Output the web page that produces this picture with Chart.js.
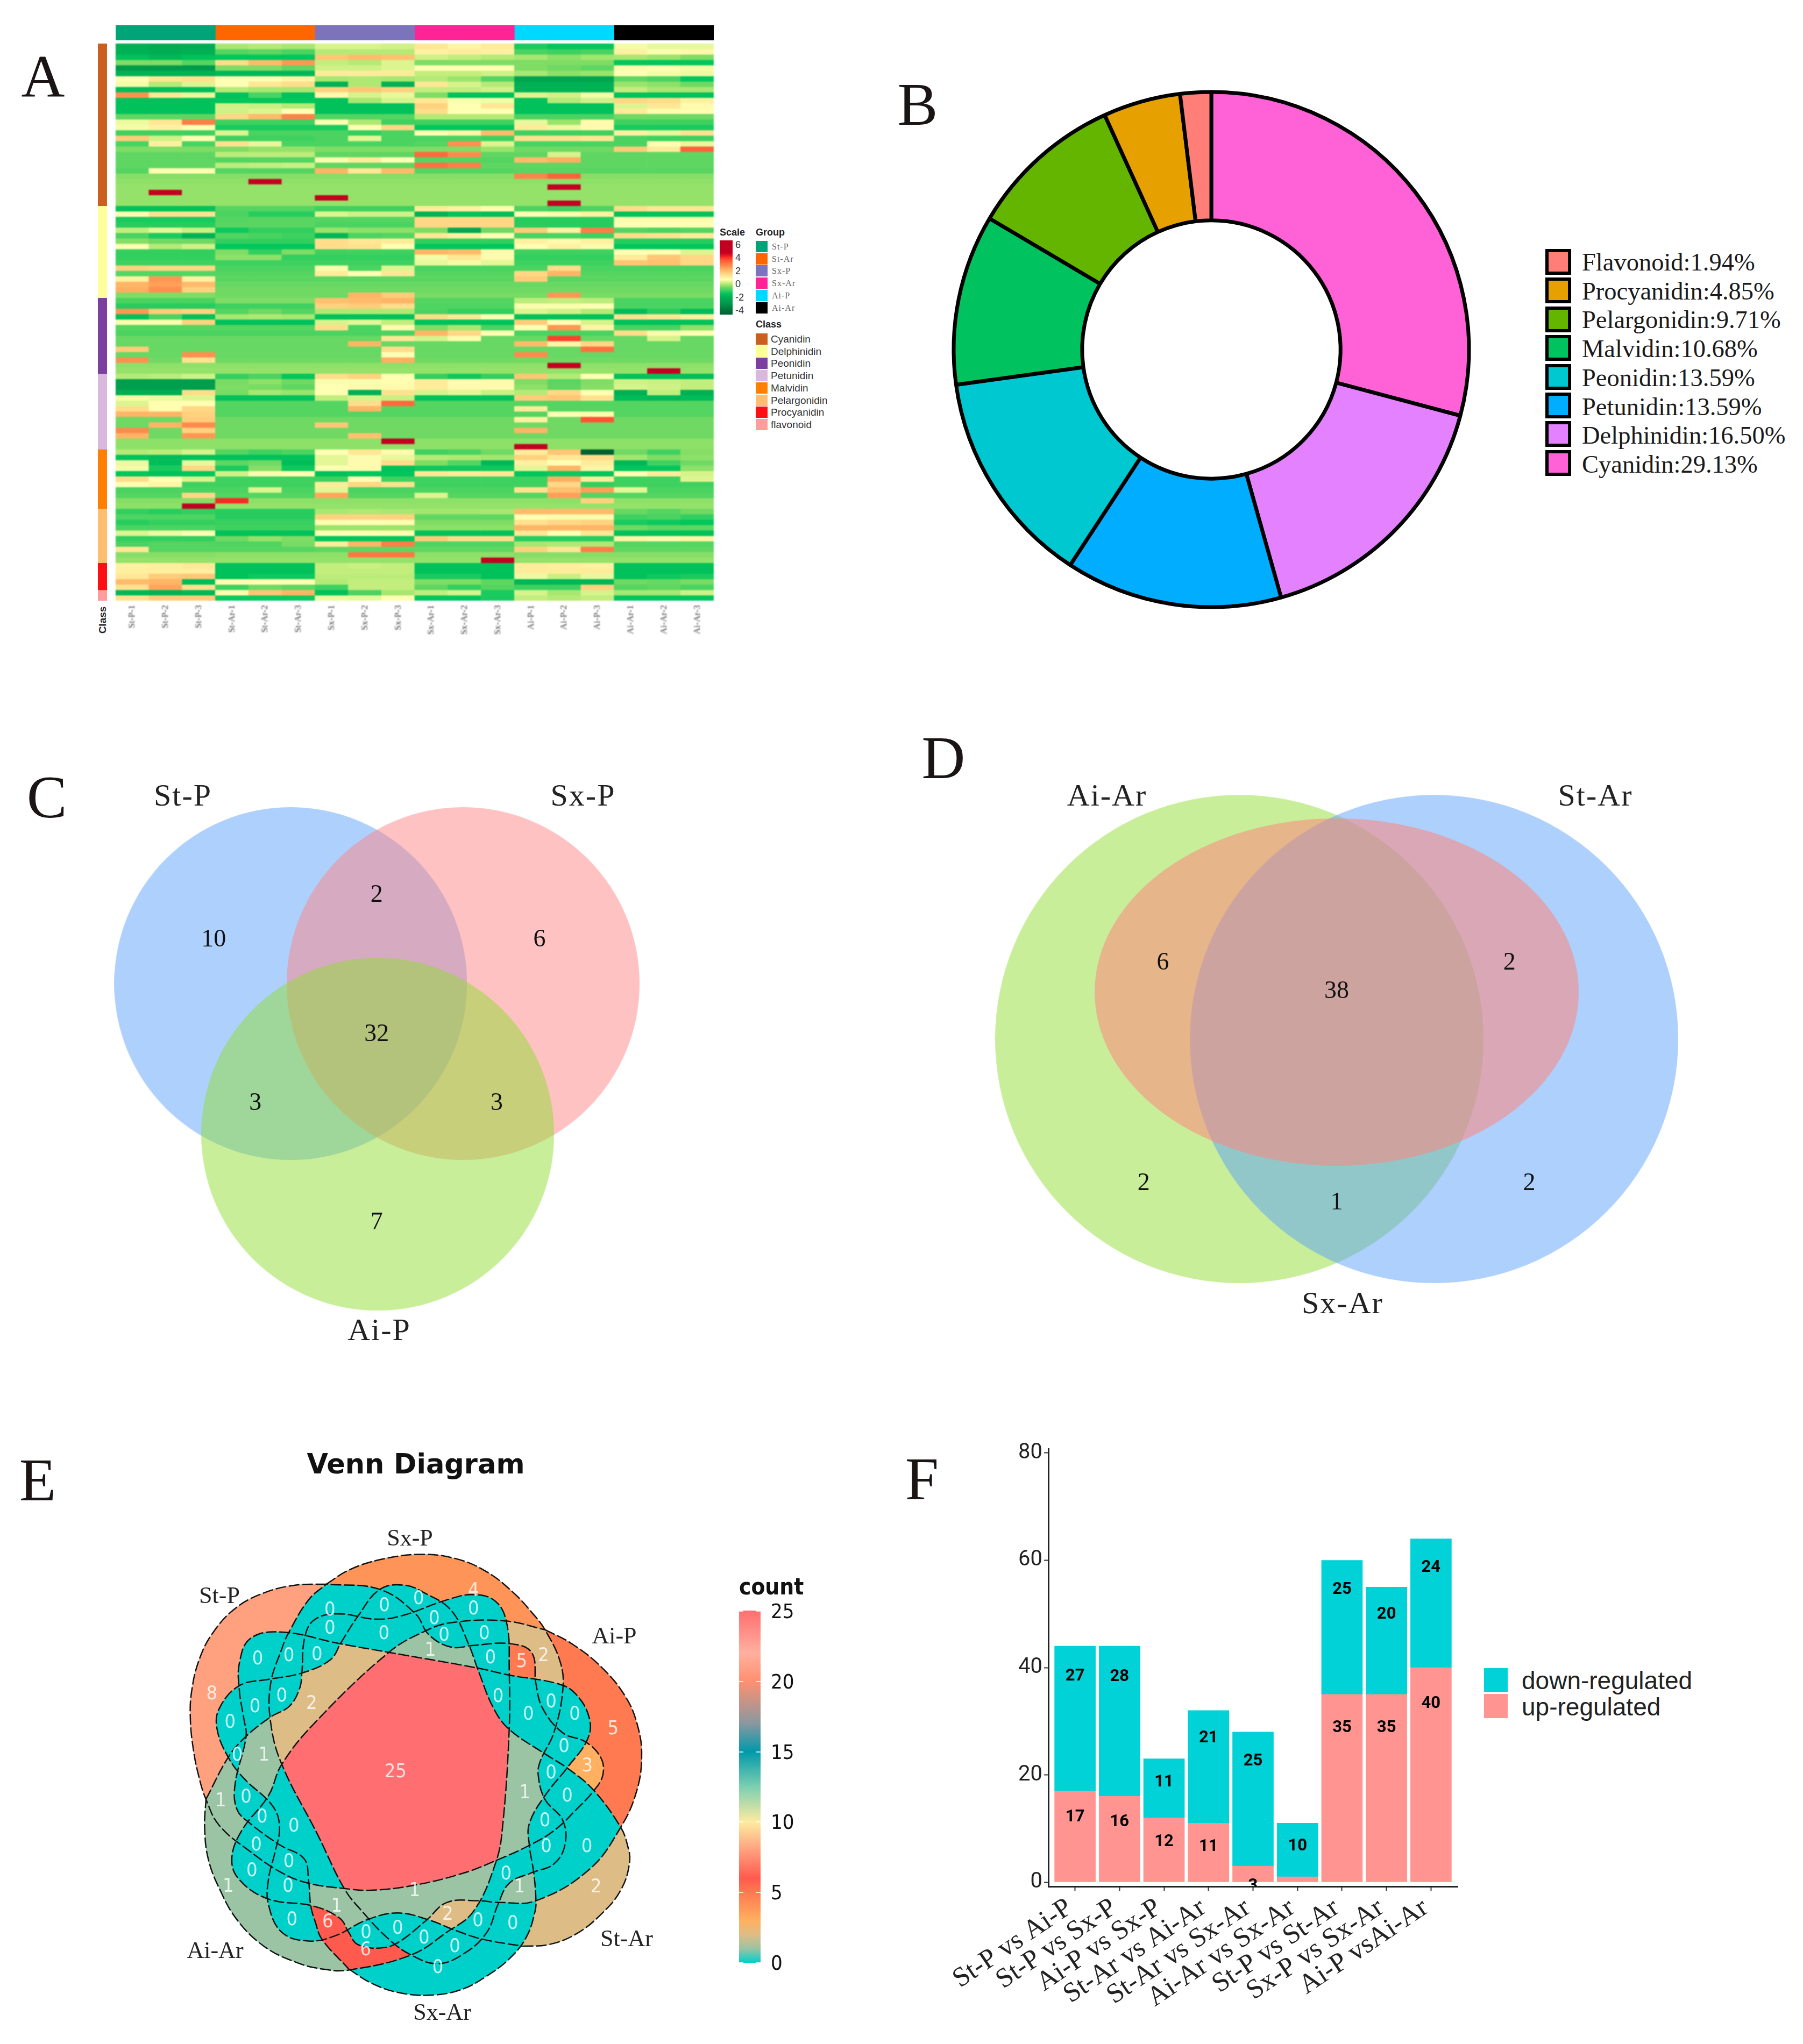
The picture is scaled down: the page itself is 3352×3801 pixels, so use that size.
<!DOCTYPE html>
<html>
<head>
<meta charset="utf-8">
<title>Figure</title>
<script src="https://cdn.jsdelivr.net/npm/chart.js"></script>
<style>
html,body{margin:0;padding:0;background:#fff}
#page{position:relative;width:3352px;height:3801px;overflow:hidden;background:#fff}
canvas{position:absolute}
.t{position:absolute;white-space:nowrap;line-height:1;transform:translate(0,-50%)}
.c{transform:translate(-50%,-50%)}
.b{position:absolute}
</style>
</head>
<body>
<div id="page"></div>
<script>
// ---- panel A
const heatSamples = ["St-P-1","St-P-2","St-P-3","St-Ar-1","St-Ar-2","St-Ar-3","Sx-P-1","Sx-P-2","Sx-P-3","Sx-Ar-1","Sx-Ar-2","Sx-Ar-3","Ai-P-1","Ai-P-2","Ai-P-3","Ai-Ar-1","Ai-Ar-2","Ai-Ar-3"];
const groupNames = ["St-P","St-Ar","Sx-P","Sx-Ar","Ai-P","Ai-Ar"];
const groupSizes = [3,3,3,3,3,3];
const groupColors = ["#00A478","#FF6600","#7B74BC","#FF2396","#00D9FF","#000000"];
const classNames = ["Cyanidin","Delphinidin","Peonidin","Petunidin","Malvidin","Pelargonidin","Procyanidin","flavonoid"];
const classSizes = [30,17,14,14,11,10,5,2];
const classColors = ["#C9601E","#FFFF99","#7B3FA0","#D9B8DE","#FF8000","#FDBF6F","#FF0F14","#FF9C9E"];
const scaleTicks = [6,4,2,0,-2,-4];
const heatRows = [
[-2.1,-2.3,-2.2,-.3,-.2,-.3,.05,.05,0,.9,.6,.8,-1.4,-1.6,-1.6,.3,.2,.2],
[-2.1,-2.2,-2.1,-.9,-.8,-1,-.2,-.2,-.2,.7,.8,.7,-1,-1.1,-1,.7,.35,.55],
[-1.7,-1.9,-1.7,-1.6,-1.6,-1.6,1.5,1.7,1.6,0,-.1,-.2,-.3,-.5,-.35,-.3,-.4,-.6],
[-.6,-.6,-.9,1.1,1.7,2.2,-.1,-.2,.1,-.6,-.6,-.6,-.6,-.6,-.6,-1.6,-1.6,-1.6],
[-3,-3,-3,-.6,-.6,-.8,0,0,.1,.4,.4,.4,-.6,-.7,-.8,.5,.4,.3],
[-2,-2,-2,-1.9,-1.9,-1.9,.8,.8,.8,-.1,-.1,0,-.3,-.5,-.4,.4,.3,.25],
[.4,.9,1,.4,.4,.6,-.3,-.25,-.3,-.2,-.4,-.9,-2.6,-2.6,-2.6,-.8,-1,-1.6],
[.3,-.2,.1,.4,.9,1.1,-2.1,-.25,-2.1,.9,.05,-.2,-2.1,-2.1,-2.1,-.4,-.5,-.7],
[-1.8,-1.8,-1.8,-.2,-.3,-.3,1.3,1.5,1.3,-.1,-.1,0,-2,-2,-2,-.1,-.3,-.3],
[2.3,.9,.2,-1.7,-1,-1.7,.5,.05,.2,-.6,-1.7,-1.7,.1,0,.3,-1.7,-1.7,-1.7],
[-1.7,-1.7,-1.7,-1.6,-1.6,-1.6,-1.7,-.3,.05,.9,.35,.3,-1.7,-.2,0,1.2,1.1,.7],
[-1.7,-1.7,-1.7,0,-.05,-.2,-1.7,-1.7,-1.7,1.3,.4,.9,-1.7,-1.7,-1.7,.1,.9,.5],
[-1.7,-1.7,-1.7,0,.1,.4,-1.7,-1.7,-1.7,1.1,.4,.4,-1.7,-1.7,-1.7,.8,.35,.45],
[-.8,-.8,-.8,1.2,1.7,2.5,-.9,-.9,-.9,-.2,-.2,-.2,-1,-1,-1,-.7,-.7,-.7],
[.25,.9,2.6,-1.1,-1.1,-1.1,.4,-.25,-1.1,-1.1,-1.1,-1.1,.2,-.4,.5,-1.1,-1.1,-1.1],
[.3,.7,.4,-1.4,-1.4,-1.4,-1.4,.4,1.2,-1.6,-1.6,-1.6,.8,.25,.5,-1.4,-1.4,-1.4],
[-1.1,-1.1,-1.1,.1,-1,-1,-1,-1.2,-1,.4,.6,1.7,-1.1,-1.1,-1.1,.7,.2,1],
[1.4,0,.4,-1.1,-1.1,-1.1,-1,.15,-1,-1,-1,-1.1,1,1,.9,-1,-1.1,-1.1],
[-1,.7,-1,1,.2,-1,-1,-1,-1,-.9,2.3,.1,-1,-1,-1,-1,.4,.2],
[-.6,-.6,-.6,-.6,-.45,-.45,-.6,-.6,-.6,-.6,-.6,-.4,-.7,-.7,-.7,1.4,.8,3],
[-.8,-.8,-.8,-.15,-.15,-.15,-.8,-.8,-.8,2.9,2.4,-.8,-.8,.05,-.8,-.8,-.8,-.8],
[-.8,-.8,-.8,-.9,-.9,-.9,.35,.8,.4,-.9,-.9,-.9,1.7,1.9,-.8,-.8,-.8,-.8],
[-.8,-.8,-.8,-.15,-.1,-.05,-.8,-.8,-.8,2.8,2.6,-.8,-.8,-.8,-.8,-.8,-.8,-.8],
[-.9,.4,.4,-.9,-.9,-.9,1.8,.9,1.7,-.9,-.9,-.9,-.85,-.85,-.85,-.85,-.85,-.85],
[-.55,-.55,-.55,-.55,-.55,-.55,-.55,-.55,-.55,-.55,-.55,-.55,2.5,3,-.55,-.55,-.55,-.55],
[-.5,-.5,-.5,-.5,4.5,-.5,-.5,-.5,-.5,-.5,-.5,-.5,-.5,-.5,-.5,-.5,-.5,-.5],
[-.45,-.45,-.45,-.45,-.45,-.45,-.45,-.45,-.45,-.45,-.45,-.45,-.45,4.5,-.45,-.45,-.45,-.45],
[-.45,4.5,-.45,-.45,-.45,-.45,-.45,-.45,-.45,-.45,-.45,-.45,-.45,-.45,-.45,-.45,-.45,-.45],
[-.45,-.45,-.45,-.45,-.45,-.45,4.5,-.45,-.45,-.45,-.45,-.45,-.45,-.45,-.45,-.45,-.45,-.45],
[-.45,-.45,-.45,-.45,-.45,-.45,-.45,-.45,-.45,-.45,-.45,-.45,-.45,4.5,-.45,-.45,-.45,-.45],
[-1.7,-1.7,-1.7,-.9,-.9,-.9,-1.1,-1.1,-1.1,.8,.7,.45,-1,-1.1,-1,1.1,.9,.9],
[.45,1,1,-1,-1.3,-1.3,.1,0,0,-2,-1.7,-1.8,.4,.5,.7,-1.7,-1.7,-1.7],
[-1.4,-1.4,-1.4,-.9,-.85,-.85,-.9,-.9,-.9,1.2,1.2,1.2,-1.3,-1.3,-1.3,.35,.35,.35],
[-1.3,-1.3,-1.3,-.85,-.85,-.85,-1,-1,-1,1.2,1.2,1.2,-1.3,-1.3,-1.3,.4,.4,.4],
[-.1,.15,-.05,-1.5,-1.2,-1.2,-.4,-.5,-.5,-.6,-2.4,-.7,1.4,.7,2.6,-.9,-1,-.9],
[-1,-1.4,-2,-.9,-1,-1.1,-1.9,-1,-.9,.9,.7,.4,-1,-1,-1.1,1.1,1,.8],
[-.55,-.7,-.7,-1.2,-1.2,-1.2,1.1,.9,.8,-1.2,-1.2,-1.2,.7,.5,.7,-1.3,-1.3,-1.3],
[.4,-.2,0,-1.6,-1.6,-1.6,1.1,1,.4,-1.6,-1.6,-1.6,.4,.7,.35,-1.6,-1.6,-1.6],
[-1.2,-1.2,-1.2,-.6,-1.2,-.6,-1.1,-1.1,-1.1,1.8,1.7,.5,-1.1,-1.1,-1.1,.4,.4,.1],
[-1.2,-1.2,-1.2,-.5,-.5,-1.2,-1.2,-1.2,-1.2,.3,.9,.5,-1.2,-1.2,-1.2,.8,1.5,1.2],
[-1.1,-1.1,-1.1,-1.1,-1.1,-1.1,-1.1,-1.1,-1.1,.2,.3,.15,-1.1,-1.1,-1.1,1.5,1.6,1.2],
[1.3,1.2,1.2,-1,-1,-1,.35,-1,.1,-1,-1,-1,-1,1.1,-1,-1,-1,-1],
[-.9,-.9,-.9,-.9,-.9,-.9,.8,.4,.9,-.9,-.9,-.9,1.2,1.8,-.9,-.9,-.9,-.9],
[.7,2.2,.7,-.85,-.85,-.85,-.85,-.85,-.85,-.85,-.85,-.85,1.4,-.85,-.85,-.85,-.85,-.85],
[1.8,2.1,1.7,-.75,-.75,-.75,-.75,-.75,-.75,-.75,-.75,-.75,-.75,-.75,-.75,-.75,-.75,-.75],
[1.9,2.3,1.3,-.7,-.7,-.7,-.7,-.7,-.7,-.7,-.7,-.7,-.7,-.7,-.7,-.7,-.7,-.7],
[-.6,-.6,-.6,-.7,-.7,-.7,-.7,1.8,1.4,-.65,-.65,-.65,-.65,2.2,-.65,-.65,-.65,-.65],
[-1,-1,-1,-.6,-.6,-.6,1.6,1.7,1.8,-.9,-.9,-.9,-.15,-.1,-.15,-1,-1,-1],
[-1.3,-1.3,-1.3,-1.1,-1.1,-1.1,1.3,1.4,1.1,-.95,-.95,-.95,.35,.35,.4,-1,-1,-1],
[2.2,1.4,1.3,-.9,-.7,-.9,-.25,-.25,-.25,-1,-1.2,-1.2,.1,0,-.2,-1.8,-1.3,-1.8],
[-1.7,-1,-1.7,-.3,-.25,-.3,-1.7,-1.7,-1.7,1.1,.9,.4,-1.7,-1.7,-1.7,1,.9,.7],
[.35,.35,1.3,-1.7,-1.7,-1.7,.05,.15,-.1,-1.7,-1.7,-1.7,1.4,.4,.05,-1.7,-1.7,-1.7],
[-.9,-.9,-.9,-.9,-.9,-.9,1.1,-1,.5,-.6,-.3,-1,.4,2.2,.6,-1,-1,-.5],
[-1,-1,-1,-1,-1,-1,-1,-1,-1,1.8,1.2,.4,-1,-1,-1,1.1,.35,.4],
[-.75,-.75,-.75,-.75,-.75,-.75,-.75,-.75,.9,.05,.35,-.75,-.75,3.4,-.75,-.75,.05,-.75],
[-.75,-.75,-.75,-.75,-.75,-.75,-.75,1.8,-.75,-.75,-.75,-.75,1.7,.6,1.2,-.75,-.75,-.75],
[1.4,-.75,-.75,-.75,-.75,-.75,-.75,-.75,1.1,-.75,-.75,-.75,-.75,-.75,2.8,-.75,-.75,-.75],
[-.75,-.75,2.3,-.75,-.75,-.75,-.75,-.75,.4,-.75,-.75,-.75,2.4,-.75,-.75,-.75,-.75,-.75],
[2.3,-.7,1,-.7,-.7,-.7,-.7,-.7,1.9,-.7,-.7,-.7,-.7,-.7,-.7,-.7,-.7,-.7],
[-.5,-.5,-.5,-.5,-.5,-.5,-.5,-.5,-.5,-.5,-.5,-.5,-.5,4.5,-.5,-.5,-.5,-.5],
[-.45,-.45,-.45,-.45,-.45,-.45,-.45,-.45,-.45,-.45,-.45,-.45,-.45,-.45,-.45,-.45,4.5,-.45],
[-.2,-.15,0,-1.2,-1,-1.6,1.1,1.3,.4,-1.2,-1.5,-1.2,1.5,-.2,.4,-1.7,-1.7,-1.8],
[-2.8,-2.8,-2.8,-.65,-.5,-.7,.35,.35,.45,.8,.45,.5,-.6,-.85,-.6,0,-.05,-.1],
[-2.8,-2.8,-2.8,-.6,-.65,-.8,.4,.5,.5,.8,.5,.5,-.5,-.8,-.55,.05,0,-.1],
[-2.2,-2.2,1.1,-.65,-.3,-.4,.4,-2.1,1,.05,.15,-.05,-.2,1.2,.4,-2.1,-.1,-2.1],
[.3,.25,.1,-1.7,-1.7,-1.7,-.1,.05,-.05,-1.7,-1.7,-1.7,1.4,1.5,1,-1.8,-1.9,-1.8],
[.1,.45,.4,-.9,-.9,-.9,-.9,1.1,2.9,-.9,-.9,-.9,-.9,-.9,-.9,-.9,-.9,-.9],
[1.1,.45,1.2,-.9,-.9,-.9,-.9,1.8,-.9,-.9,-.9,-.9,.8,-.9,-.9,-.9,-.9,-.9],
[1.8,1.8,1.3,-.9,-.9,-.9,-.9,-.9,-.9,-.9,-.9,-.9,-.9,.4,.35,-.9,-.9,-.9],
[-.7,-.7,1.4,-.7,-.7,-.7,-.7,-.7,-.7,-.7,-.7,-.7,.7,-.7,3.2,-.7,-.7,-.7],
[-.7,1.8,2.4,-.7,-.7,-.7,1.5,-.7,-.7,-.7,-.7,-.7,-.7,-.7,-.7,-.7,-.7,-.7],
[2.4,-.7,1.3,-.7,-.7,-.7,-.7,-.7,-.7,-.7,-.7,-.7,1.8,-.7,-.7,-.7,-.7,-.7],
[1.8,-.7,2.2,-.7,-.7,-.7,-.7,1.6,-.7,-.7,-.7,-.7,-.7,-.7,-.7,-.7,-.7,-.7],
[-.5,-.5,-.5,-.5,-.5,-.5,-.5,-.5,4.5,-.5,-.5,-.5,-.5,-.5,-.5,-.5,-.5,-.5],
[-.5,-.5,-.5,-.5,-.5,-.5,-.5,-.5,-.5,-.5,-.5,-.5,4.5,-.5,-.5,-.5,-.5,-.5],
[-.2,-.15,.05,-.9,-1.1,-1,.4,.9,.5,-1.1,-1,-.7,.8,1.5,-4.5,-.7,-1.1,-.55],
[-1.7,-1.8,-1.7,-1.7,-1.7,-1.7,.15,.35,.2,-.2,-.25,-.35,1.3,.9,1.1,-.35,-.6,-.5],
[.25,-1.8,.2,-.8,-.7,-1.8,.15,.5,1.1,-.6,-.9,-1.9,.7,.4,.8,-1.9,-1.1,-.7],
[.3,-1.4,1.2,-1.4,-.55,-1.5,.4,.5,-1.7,-1.5,-1.5,-1.5,.15,1.8,.6,-1.6,-1.6,-.5],
[-1.6,-1.7,-1.6,0,.35,.4,-1.7,-1.6,-1.6,.9,.8,.9,-1.6,-1.5,-1.6,.4,.8,.05],
[1.1,.4,.05,-1.1,-1.1,-1.1,-1.1,.4,-1.1,-1.1,-1.1,-1.1,-1.1,1.9,.8,-1.1,-1.1,.1],
[.4,.6,-1.1,-1.1,-1.1,-1.1,.8,1.2,1,-1.1,-1.1,-1.1,-1.1,1.2,-1.2,-1.1,-1.1,-1.1],
[-1,-1,-1,-1,.1,-1,.15,-1,-1,-1,-1,-1,1,1.6,2.1,.15,-1,-1],
[-.9,-.9,1.2,-.9,-.9,-.9,2,-.9,-.9,.1,-.9,-.9,-.9,2.1,-.9,-.9,-.9,-.9],
[-.55,-.55,-.55,3.6,-.5,-.5,-.5,-.5,-.5,-.5,-.5,-.5,-.5,-.5,1.3,-.5,-.5,-.5],
[-.5,-.5,4.5,-.45,-.45,-.45,-.45,-.45,-.45,-.45,-.45,-.45,-.45,-.45,-.45,-.45,-.45,-.45],
[-1.2,-1.3,-1.2,-1.3,-1.3,-1.3,-.3,-.25,-.3,-.35,-.35,-.3,1.7,1.7,1.7,-.75,-.9,-.7],
[-.95,-.95,-.95,-1.3,-1.3,-1.3,1.3,1.3,1.3,-.8,-.8,-.8,.4,.35,.35,-1.1,-1,-1.2],
[-1.3,-1.2,-1.2,-1.15,-1.15,-1.15,.45,.4,.45,-.6,-.6,-.6,1,1.2,1.3,-1.4,-1.5,-1.6],
[-1,-1,-1,-1.1,-1.1,-1.1,-.4,-.4,-.4,-.5,-.5,-.5,1.8,1.8,1.8,-.7,-.8,-.8],
[.1,.25,.4,-1.7,-1.7,-1.7,.4,.4,.45,-1.7,-1.7,-1.7,.9,.4,.9,-1.7,-1.7,-1.7],
[-1.2,-1.2,-1.2,-.7,-.45,-.6,-1.6,-1.6,-1.6,1.4,1.1,1.1,-1.3,-1.3,-1.3,.6,.5,.6],
[-1,-.9,-.9,-.95,-.95,-.65,.8,1.8,2.6,-.95,-.95,-.95,-.3,-.25,-.25,-.9,-.9,-.9],
[.9,-.9,-.9,-.9,-.9,-.9,-.8,-.8,-.8,-.8,-.8,-.8,1.3,.9,2.6,-.8,-.8,-.8],
[-.55,-.55,-.55,-.5,-.5,-.5,-.5,2.7,2.7,-.5,-.5,-.5,-.55,-.55,-.55,-.55,-.55,-.55],
[-.45,-.45,-.45,-.45,-.45,-.45,-.45,-.45,-.45,-.45,-.45,4.5,-.45,-.45,-.45,-.45,-.45,-.45],
[.7,.75,.85,-1.7,-1.7,-1.7,-.1,-.05,-.1,-1.7,-1.7,-1.7,.8,.75,.7,-1.7,-1.7,-1.7],
[.75,.75,.75,-1.7,-1.7,-1.7,-.1,-.1,-.1,-1.7,-1.7,-1.7,.8,.8,.8,-1.7,-1.7,-1.7],
[.9,1.4,1.5,-1.7,-1.5,-1.5,-.15,-.15,-.15,-1.4,-1.4,-1.7,.25,-.05,.2,-1.7,-1.5,-1.4],
[1.7,1.8,-1.8,.4,.4,.4,-.2,-.1,-.1,-.6,-.6,-.8,-1.9,-1.9,-1.9,-.7,-.75,-.65],
[1,2,1,-1.1,-.7,-.8,-1.1,-.1,-.1,-.8,-1.2,-.9,-1.1,-1.1,1.3,-.9,-.8,-1],
[-1.9,-2,-1.9,.45,1.5,1.8,-1.7,-1,-.3,-.1,.05,-1.4,.05,-.3,.05,-.3,-.3,0],
[1,1.4,1.4,-1.5,-1.5,-1.5,.25,.2,.4,-1.6,-1.6,-1.4,-.1,-.2,-.1,-1.6,-1.6,-1.6]
];
const heatStops = [-4.5,-3,-2,-1.6,-1.1,-.8,-.6,-.4,-.15,.1,.4,.9,1.3,1.8,2.3,2.8,3.3,3.7,4.2,6];
const heatColors = ["#006030","#009A4B","#00B255","#00C65C","#3FD160","#5FD662","#7FDC65","#9BE46B","#BCEC7A","#DDF590","#FFFFB3","#FFE795","#FFD27F","#FFB566","#FF9050","#FF7040","#FF4C30","#F52020","#C40020","#C00020"];

// ---- panel B
const donutNames = ["Cyanidin","Delphinidin","Petunidin","Peonidin","Malvidin","Pelargonidin","Procyanidin","Flavonoid"];
const donutValues = [29.13,16.50,13.59,13.59,10.68,9.71,4.85,1.94];
const donutColors = ["#FF61D6","#E381FF","#00ADFF","#00C8D0","#00C35F","#64B500","#E6A000","#FF7F78"];

// ---- panel C, D
const vennCNames = ["St-P","Sx-P","Ai-P"];
const vennCCounts = [10,2,6,32,3,3,7];
const vennDNames = ["Ai-Ar","St-Ar","Sx-Ar"];
const vennDCounts = [6,38,2,2,1,2];

// ---- panel E
const eNames = ["St-P","Sx-P","Ai-P","St-Ar","Sx-Ar","Ai-Ar"];
const eStP = [[370,255],[300,258],[230,280],[165,325],[115,395],[85,470],[68,560],[65,640],[72,730],[85,810],[100,870],[130,945],[200,1020],[270,1080],[330,1110],[410,1125],[470,1130],[570,1115],[680,1080],[750,1045],[820,1005],[880,960],[930,900],[970,845],[990,800],[985,750],[950,705],[900,680],[855,610],[840,540],[830,450],[780,425],[700,430],[650,435],[600,400],[570,340],[490,270],[370,255]];
const eSxP = [[370,255],[420,215],[490,185],[580,170],[660,182],[730,220],[790,280],[830,335],[860,385],[895,480],[900,560],[880,680],[850,760],[845,800],[860,870],[900,930],[905,1000],[880,1055],[830,1080],[780,1110],[755,1170],[730,1250],[680,1310],[620,1340],[560,1315],[510,1270],[450,1190],[410,1125],[350,970],[270,770],[245,650],[245,540],[270,440],[285,395],[330,300],[370,255]];
const eAiP = [[860,385],[920,425],[985,490],[1040,575],[1068,660],[1077,750],[1065,850],[1030,950],[960,1070],[840,1160],[760,1165],[710,1160],[640,1165],[595,1215],[530,1280],[490,1295],[440,1285],[420,1250],[400,1210],[340,1175],[240,1155],[175,1100],[158,1040],[180,960],[240,860],[270,770],[345,650],[510,450],[590,390],[650,365],[770,360],[860,385]];
const eStAr = [[810,1290],[870,1285],[930,1255],[985,1200],[1030,1130],[1050,1050],[1045,1000],[1030,950],[970,845],[915,785],[860,740],[780,670],[745,610],[710,500],[690,430],[650,330],[590,280],[545,258],[490,270],[440,348],[403,422],[379,471],[315,509],[241,527],[175,545],[130,610],[125,670],[150,750],[185,810],[250,890],[265,950],[255,1020],[240,1100],[240,1170],[270,1250],[330,1275],[390,1260],[460,1215],[530,1195],[600,1215],[660,1245],[720,1270],[810,1290]];
const eSxAr = [[420,1355],[470,1395],[530,1422],[600,1430],[670,1415],[730,1375],[785,1320],[820,1260],[838,1190],[840,1160],[835,1080],[825,1000],[825,940],[860,860],[910,780],[955,700],[960,640],[930,570],[890,540],[780,515],[710,495],[510,450],[400,425],[270,392],[200,410],[175,480],[175,560],[185,640],[190,690],[165,830],[170,900],[200,940],[265,1000],[320,1040],[330,1100],[335,1175],[345,1220],[360,1270],[420,1355]];
const eAiAr = [[100,870],[150,750],[190,690],[246,634],[287,604],[310,553],[315,509],[322,404],[345,355],[400,340],[480,355],[540,345],[640,300],[700,285],[750,305],[775,370],[780,500],[780,670],[765,950],[750,1050],[700,1190],[640,1250],[560,1315],[420,1358],[360,1355],[300,1335],[230,1290],[170,1215],[130,1125],[105,1040],[97,950],[100,870]];
const eSets = [eStP,eSxP,eAiP,eStAr,eSxAr,eAiAr];
const eCounts = [8,4,5,2,0,1,1,1,2,1,5,2,3,1,25,1,1,2,1,6,6,
  0,0,0,0,0,0,0,0,0,0,0,0,0,0,0,0,0,0,0,0,0,0,0,0,0,0,0,0,0,0,0,0,0,0,0,0,0,0,0,0,0,0];
const eAnchors = [[113,570],[700,275],[1013,670],[975,1122],[620,1352],[150,1120],[133,875],[230,745],[337,598],[603,445],[808,478],[857,460],[955,775],[815,852],[525,793],[568,1133],[803,1122],[642,1200],[393,1177],[373,1222],[458,1302],
  [378,330],[500,318],[577,298],[700,327],[612,355],[378,382],[499,397],[634,402],[724,397],[738,467],[216,470],[286,460],[349,458],[270,576],[210,607],[154,651],[170,745],[755,577],[823,628],[874,593],[927,628],[903,720],[874,795],[910,862],[860,933],[863,1006],[954,1006],[773,1085],[710,1218],[788,1226],[658,1292],[589,1267],[530,1240],[459,1252],[293,1215],[284,1120],[203,1075],[286,1050],[213,1002],[297,948],[226,922],[190,865]];
const eColorTicks = [25,20,15,10,5,0];
const countStops = [0,1,2,3,4,5,6,8,10,12.5,15,17,20,22,25];
const countColors = ["#00D0CA","#9AC4A4","#DEBC85","#FFB060","#FF9458","#FF7A50","#FF5A4E","#FFA07F","#FDEBA0","#7CCFB0","#0099AA","#8A98A0","#FF9070","#FFB0A0","#FF6E70"];

// ---- panel F
const barLabels = ["St-P vs Ai-P","St-P vs Sx-P","Ai-P vs Sx-P","St-Ar vs Ai-Ar","St-Ar vs Sx-Ar","Ai-Ar vs Sx-Ar","St-P vs St-Ar","Sx-P vs Sx-Ar","Ai-P vsAi-Ar"];
const upValues = [17,16,12,11,3,1,35,35,40];
const downValues = [27,28,11,21,25,10,25,20,24];
const barTicks = [0,20,40,60,80];

const SERIF = '"Liberation Serif","Times New Roman",serif';
const SANS = '"Liberation Sans",Arial,sans-serif';
const DEJAVU = '"DejaVu Sans Condensed","DejaVu Sans",sans-serif';

const page = document.getElementById("page");
Chart.defaults.animation = false;
Chart.defaults.responsive = false;
Chart.defaults.devicePixelRatio = 1;
Chart.defaults.plugins.legend.display = false;
Chart.defaults.plugins.tooltip.enabled = false;

function addCanvas(x, y, w, h) {
  const c = document.createElement("canvas");
  c.width = w; c.height = h;
  c.style.left = x + "px"; c.style.top = y + "px";
  page.appendChild(c);
  return c;
}
function text(s, x, y, css, center) {
  const d = document.createElement("div");
  d.className = center ? "t c" : "t";
  d.textContent = s;
  d.style.left = x + "px"; d.style.top = y + "px";
  d.style.cssText += ";" + css;
  page.appendChild(d);
  return d;
}
function box(x, y, w, h, css) {
  const d = document.createElement("div");
  d.className = "b";
  d.style.cssText = `left:${x}px;top:${y}px;width:${w}px;height:${h}px;` + css;
  page.appendChild(d);
  return d;
}
function hex(c) { return [1,3,5].map(i => parseInt(c.substr(i,2),16)); }
function ramp(v, stops, colors) {
  if (v <= stops[0]) return colors[0];
  for (let i = 1; i < stops.length; i++) {
    if (v <= stops[i]) {
      const t = (v - stops[i-1]) / (stops[i] - stops[i-1]);
      const a = hex(colors[i-1]), b = hex(colors[i]);
      return `rgb(${a.map((q,k) => Math.round(q + (b[k]-q)*t)).join(",")})`;
    }
  }
  return colors[colors.length-1];
}
// page pixel axes, so the venn panels can be placed straight from the picture
function flatScales(x0, x1, y0, y1) {
  return {
    x: {type:"linear", display:false, min:x0, max:x1},
    y: {type:"linear", display:false, min:y0, max:y1, reverse:true}
  };
}
function labelPlugin(items) {
  return {
    id: "labels",
    afterDatasetsDraw(chart) {
      const ctx = chart.ctx;
      ctx.save();
      ctx.textAlign = "center"; ctx.textBaseline = "middle";
      items.forEach(it => {
        ctx.font = it.font; ctx.fillStyle = it.color;
        ctx.fillText(it.text, chart.scales.x.getPixelForValue(it.x), chart.scales.y.getPixelForValue(it.y));
      });
      ctx.restore();
    }
  };
}
// a translucent ellipse used as point style, placed by the scatter scales
function ellipseSprite(rx, ry, fill) {
  const s = document.createElement("canvas");
  s.width = rx*2; s.height = ry*2;
  const g = s.getContext("2d");
  g.fillStyle = fill;
  g.beginPath(); g.ellipse(rx, ry, rx, ry, 0, 0, Math.PI*2); g.fill();
  return s;
}
function vennSet(name, x, y, rx, ry, fill) {
  return {label:name, data:[{x,y}], pointStyle:ellipseSprite(rx,ry,fill), pointRadius:1, borderWidth:0, clip:false};
}

// ---- panel letters
[["A",80,142],["B",1706,194],["C",87,1482],["D",1754,1409],["E",70,2752],["F",1714,2750]].forEach(p =>
  text(p[0], p[1], p[2], `font:112px ${SERIF};color:#1a1414`, true));

// ---- A: heatmap
const hLeft = 215, hTop = 81, hW = 1112, hH = 1036, hAxis = 72;
const heatCanvas = addCanvas(hLeft, hTop, hW, hH + hAxis);
heatCanvas.style.filter = "blur(0.9px)";
new Chart(heatCanvas, {
  type: "bar",
  data: {
    labels: heatSamples,
    datasets: heatRows.map(row => ({
      data: row.map(() => 1),
      backgroundColor: row.map(v => ramp(v, heatStops, heatColors)),
      borderWidth: 0, barPercentage: 1, categoryPercentage: 1
    }))
  },
  options: {
    layout: {padding: 0},
    scales: {
      x: {stacked:true, grid:{display:false}, border:{display:false},
        afterFit: s => { s.height = hAxis; },
        ticks:{autoSkip:false, minRotation:90, maxRotation:90, padding:0, font:{family:SERIF,size:17}, color:"#444"}},
      y: {stacked:true, display:false, reverse:true, min:0, max:heatRows.length}
    }
  }
});
new Chart(addCanvas(hLeft, 47, hW, 28), {
  type: "bar",
  data: {labels:["Group"], datasets: groupSizes.map((v,i) => ({data:[v], backgroundColor:groupColors[i], borderWidth:0, barPercentage:1, categoryPercentage:1}))},
  options: {indexAxis:"y", scales:{x:{stacked:true, display:false, min:0, max:18}, y:{stacked:true, display:false}}}
});
new Chart(addCanvas(182, hTop, 17, hH), {
  type: "bar",
  data: {labels:["Class"], datasets: classSizes.map((v,i) => ({data:[v], backgroundColor:classColors[i], borderWidth:0, barPercentage:1, categoryPercentage:1}))},
  options: {scales:{x:{stacked:true, display:false}, y:{stacked:true, display:false, reverse:true, min:0, max:103}}}
});
text("Class", 191, 1153, `font:bold 19px ${SANS};color:#222;transform:translate(-50%,-50%) rotate(-90deg)`);

// A legends
text("Scale", 1338, 432, `font:bold 18px ${SANS};color:#222`);
const scaleGrad = heatStops.slice().reverse().map(v => {
  const pct = (6 - Math.max(v,-4.6)) / 10.6 * 100;
  return `${ramp(v, heatStops, heatColors)} ${pct.toFixed(1)}%`;
}).join(",");
box(1338, 447, 24, 138, `background:linear-gradient(to bottom,${scaleGrad})`);
scaleTicks.forEach((v,i) => text(String(v), 1367, 455 + i*24.4, `font:18px ${SANS};color:#333`));
text("Group", 1405, 432, `font:bold 18px ${SANS};color:#222`);
groupNames.forEach((n,i) => {
  box(1405, 448 + i*22.7, 22, 21, `background:${groupColors[i]}`);
  text(n, 1435, 459 + i*22.7, `font:16px ${SERIF};letter-spacing:1px;color:#666`);
});
text("Class", 1405, 603, `font:bold 18px ${SANS};color:#222`);
classNames.forEach((n,i) => {
  box(1405, 620 + i*22.7, 22, 21, `background:${classColors[i]}`);
  text(n, 1433, 631 + i*22.7, `font:19px ${SANS};color:#333`);
});

// ---- B: doughnut
new Chart(addCanvas(1732, 130, 1040, 1040), {
  type: "doughnut",
  data: {labels: donutNames, datasets:[{data: donutValues, backgroundColor: donutColors, borderColor:"#000", borderWidth:7, borderAlign:"center"}]},
  options: {radius:479, cutout:259, layout:{padding:0}}
});
donutNames.slice().reverse().forEach((n,i) => {
  const k = donutNames.length - 1 - i;
  box(2873, 463 + i*53.4, 48, 48, `box-sizing:border-box;border:6px solid #000;background:${donutColors[k]}`);
  text(`${n}:${donutValues[k].toFixed(2)}%`, 2941, 487 + i*53.7, `font:46.5px ${SERIF};color:#1a1a1a`);
});

// ---- C: venn of three circles
const GREEN = "rgba(145,221,53,.5)", BLUE = "rgba(93,161,251,.5)";
const cFont = `46px ${SERIF}`;
const cSpots = [[398,1750],[703,1667],[1008,1750],[703,1927],[476,2056],[928,2056],[703,2280]];
new Chart(addCanvas(147, 1416, 1150, 1140), {
  type: "scatter",
  data: {datasets: [
    vennSet(vennCNames[2], 705, 2114, 328, 328, GREEN),
    vennSet(vennCNames[1], 865, 1832, 328, 328, "rgba(255,133,133,.5)"),
    vennSet(vennCNames[0], 542, 1832, 328, 328, BLUE)
  ]},
  options: {layout:{padding:0}, scales: flatScales(150,1300,1420,2560)},
  plugins: [labelPlugin(vennCCounts.map((v,i) => ({text:String(v), x:cSpots[i][0], y:cSpots[i][1], font:cFont, color:"#111"})))]
});
const cNameSpots = [[340,1478],[1084,1478],[705,2472]];
vennCNames.forEach((n,i) => text(n, cNameSpots[i][0], cNameSpots[i][1], `font:58px ${SERIF};letter-spacing:2px;color:#222`, true));

// ---- D: two circles and an ellipse
const dSpots = [[2160,1790],[2485,1843],[2808,1790],[2124,2203],[2485,2239],[2845,2203]];
new Chart(addCanvas(1800, 1400, 1400, 1100), {
  type: "scatter",
  data: {datasets: [
    vennSet(vennDNames[2], 2485, 1844, 450, 323, "rgba(255,135,125,.55)"),
    vennSet(vennDNames[1], 2667, 1932, 454, 454, BLUE),
    vennSet(vennDNames[0], 2303, 1932, 454, 454, GREEN)
  ]},
  options: {layout:{padding:0}, scales: flatScales(1800,3200,1400,2500)},
  plugins: [labelPlugin(vennDCounts.map((v,i) => ({text:String(v), x:dSpots[i][0], y:dSpots[i][1], font:cFont, color:"#111"})))]
});
const dNameSpots = [[2058,1478],[2966,1478],[2496,2422]];
vennDNames.forEach((n,i) => text(n, dNameSpots[i][0], dNameSpots[i][1], `font:58px ${SERIF};letter-spacing:2px;color:#222`, true));

// ---- E: six set venn, one closed line per set, regions painted under them
const fillRegions = {
  id: "fillRegions",
  beforeDatasetsDraw(chart) {
    const ctx = chart.ctx;
    const paths = chart.data.datasets.map((d,i) => {
      const meta = chart.getDatasetMeta(i);
      meta.dataset.updateControlPoints(chart.chartArea, "x");
      const pts = meta.data, p = new Path2D();
      p.moveTo(pts[0].x, pts[0].y);
      for (let k = 1; k < pts.length; k++) {
        p.bezierCurveTo(pts[k-1].cp2x, pts[k-1].cp2y, pts[k].cp1x, pts[k].cp1y, pts[k].x, pts[k].y);
      }
      p.closePath();
      return p;
    });
    ctx.save();
    ctx.fillStyle = ramp(0, countStops, countColors);
    paths.forEach(p => ctx.fill(p));
    const sx = chart.scales.x, sy = chart.scales.y;
    const seen = {};
    const seeds = eAnchors.map((a,i) => [a[0], a[1], eCounts[i]]);
    seeds[1] = [650, 230, 4];
    seeds.forEach(sd => {
      if (!sd[2]) return;
      const px = sx.getPixelForValue(sd[0]), py = sy.getPixelForValue(sd[1]);
      const inside = paths.map(p => ctx.isPointInPath(p, px, py));
      const key = inside.join();
      if (seen[key]) return;
      seen[key] = 1;
      ctx.save();
      inside.forEach((on,i) => {
        if (on) { ctx.clip(paths[i]); }
        else {
          const outer = new Path2D();
          outer.rect(0, 0, chart.width, chart.height);
          outer.addPath(paths[i]);
          ctx.clip(outer, "evenodd");
        }
      });
      ctx.fillStyle = ramp(sd[2], countStops, countColors);
      ctx.fillRect(0, 0, chart.width, chart.height);
      ctx.restore();
    });
    ctx.restore();
  }
};
new Chart(addCanvas(300, 2780, 1300, 1020), {
  type: "scatter",
  data: {datasets: eSets.map((s,i) => ({
    label: eNames[i],
    data: s.map(p => ({x:p[0], y:p[1]})),
    showLine:true, tension:.4, pointRadius:0, borderColor:"#111", borderWidth:2.5, borderDash:[20,5], fill:false
  }))},
  options: {layout:{padding:0}, scales: flatScales(0,1568,0,1568)},
  plugins: [fillRegions, labelPlugin(eCounts.map((v,i) => ({text:String(v), x:eAnchors[i][0], y:eAnchors[i][1], font:`36px ${DEJAVU}`, color:"rgba(255,255,255,.78)"})))]
});
text("Venn Diagram", 773, 2722, `font:bold 51px "DejaVu Sans",sans-serif;color:#111`, true);
const eNameSpots = [[408,2966],[762,2859],[1142,3041],[1165,3604],[822,3741],[400,3626]];
eNames.forEach((n,i) => text(n, eNameSpots[i][0], eNameSpots[i][1], `font:44px ${SERIF};color:#222`, true));
text("count", 1374, 2950, `font:bold 42px ${DEJAVU};color:#111`);
const countGrad = countStops.slice().reverse().map(v => `${ramp(v,countStops,countColors)} ${(100-v*4).toFixed(1)}%`).join(",");
box(1374, 2995, 40, 655, `background:linear-gradient(to bottom,${countGrad})`);
eColorTicks.forEach((v,i) => {
  const y = 2996 + i*130.8;
  text(String(v), 1433, y, `font:38px ${DEJAVU};color:#111`);
  box(1374, y-1, 8, 2, "background:rgba(255,255,255,.8)");
  box(1406, y-1, 8, 2, "background:rgba(255,255,255,.8)");
});

// ---- F: stacked bars
const barValueLabels = {
  id: "barValueLabels",
  afterDatasetsDraw(chart) {
    const ctx = chart.ctx, a = chart.chartArea, sx = chart.scales.x, sy = chart.scales.y;
    ctx.save();
    ctx.beginPath(); ctx.rect(a.left, a.top, a.right - a.left, a.bottom - a.top); ctx.clip();
    ctx.font = "bold 31px Roboto"; ctx.fillStyle = "#000";
    ctx.textAlign = "center"; ctx.textBaseline = "middle";
    barLabels.forEach((_,i) => {
      const yUp = upValues[i] - (3.5 + .08*upValues[i]);
      const total = upValues[i] + downValues[i];
      const yDown = total - (3.5 + .08*downValues[i]);
      ctx.fillText(String(upValues[i]), sx.getPixelForValue(i+1), sy.getPixelForValue(yUp));
      ctx.fillText(String(downValues[i]), sx.getPixelForValue(i+1), sy.getPixelForValue(yDown));
    });
    ctx.restore();
  }
};
new Chart(addCanvas(1700, 2660, 1020, 1130), {
  type: "bar",
  data: {datasets: [
    {label:"up-regulated", data: upValues.map((v,i) => ({x:i+1,y:v})), backgroundColor:"#FF9490", borderWidth:0, barThickness:76},
    {label:"down-regulated", data: downValues.map((v,i) => ({x:i+1,y:v})), backgroundColor:"#00D2D8", borderWidth:0, barThickness:76}
  ]},
  options: {
    layout:{padding:{top:34,right:10,left:0,bottom:0}},
    scales: {
      x: {type:"linear", stacked:true, min:.4, max:9.6, bounds:"data", offset:false,
        afterBuildTicks: s => { s.ticks = barLabels.map((_,i) => ({value:i+1})); s.min = .4; s.max = 9.6; },
        afterFit: s => { s.height = 282; },
        grid:{offset:false, drawOnChartArea:false, drawTicks:true, tickLength:8, tickColor:"#333", tickWidth:2},
        border:{display:true, width:3, color:"#222"},
        ticks:{autoSkip:false, minRotation:34, maxRotation:34, padding:2, labelOffset:-10, callback:v => barLabels[v-1], font:{family:SERIF,size:51}, color:"#222"}},
      y: {stacked:true, min:-.8, max:80.8,
        afterBuildTicks: s => { s.ticks = barTicks.map(v => ({value:v})); },
        afterFit: s => { s.width = 249; },
        grid:{drawOnChartArea:false, drawTicks:true, tickLength:8, tickColor:"#333", tickWidth:2},
        border:{display:true, width:3, color:"#222"},
        ticks:{padding:3, font:{family:"Roboto",size:40}, color:"#222"}}
    }
  },
  plugins:[barValueLabels]
});
box(2759, 3102, 44, 44, "background:#00D2D8");
box(2759, 3150, 44, 45, "background:#FF9490");
text("down-regulated", 2829, 3125, `font:46px ${SANS};color:#222`);
text("up-regulated", 2829, 3174, `font:46px ${SANS};color:#222`);
</script>
</body>
</html>
